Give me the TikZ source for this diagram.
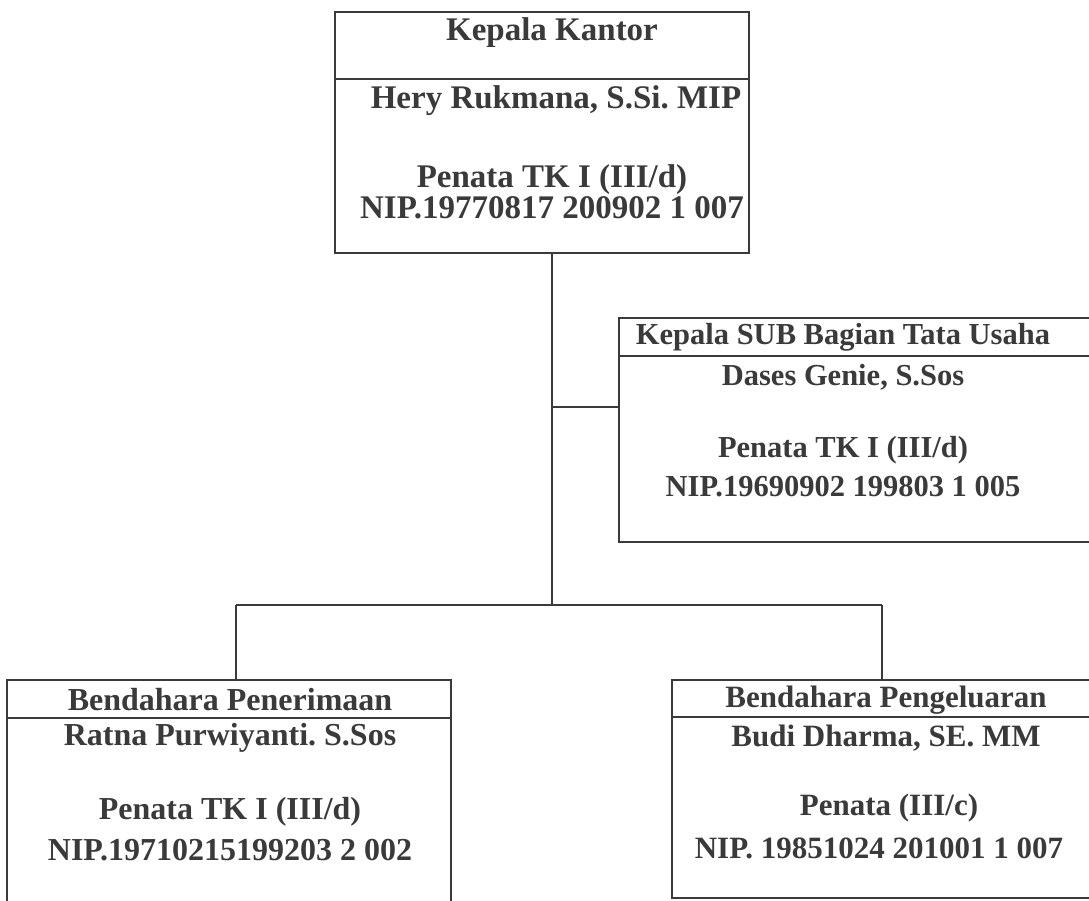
\documentclass[tikz,border=0pt]{standalone}
\usepackage{fontspec}
\setmainfont{Liberation Serif}
\frenchspacing
\definecolor{ink}{HTML}{3A3A3A}
\tikzset{
  boxline/.style={draw=ink, line width=2pt},
  conn/.style={draw=ink, line width=1.6pt},
  lbl/.style={text=ink, font=\fontsize{32}{36}\selectfont\bfseries, inner sep=0pt, anchor=center},
  lblbig/.style={lbl, font=\fontsize{33}{37}\selectfont\bfseries},
  lblmid/.style={lbl, font=\fontsize{30.5}{34}\selectfont\bfseries},
  lbls/.style={lbl, font=\fontsize{31}{35}\selectfont\bfseries},
}
\begin{document}
\begin{tikzpicture}[x=1pt,y=-1pt]
\useasboundingbox (0,0) rectangle (1089,900);
\fill[white] (0,0) rectangle (1089,900);
\clip (0,0) rectangle (1089,900);

% boxes
\node[boxline, minimum width=414pt, minimum height=241pt, inner sep=0pt] (kk) at (542,132.5) {};
\draw[boxline] (335,79) -- (749,79);
\node[boxline, minimum width=490pt, minimum height=224pt, inner sep=0pt] (tu) at (864,430) {};
\draw[boxline] (619,356) -- (1109,356);
\node[boxline, minimum width=444pt, minimum height=260pt, inner sep=0pt] (bp) at (229,810) {};
\draw[boxline] (7,718) -- (451,718);
\node[boxline, minimum width=440pt, minimum height=218pt, inner sep=0pt] (bk) at (892,789) {};
\draw[boxline] (672,717) -- (1112,717);

% connectors
\coordinate (ktop) at (552,253);
\coordinate (jtu) at (552,407);
\coordinate (jbar) at (552,605);
\coordinate (lbar) at (236,605);
\coordinate (rbar) at (882,605);
\draw[conn] (ktop) -- (jbar);
\draw[conn] (jtu) -- (jtu -| tu.west);
\draw[conn] (lbar) -- (rbar);
\draw[conn] (lbar) -- (lbar |- bp.north);
\draw[conn] (rbar) -- (rbar |- bk.north);

% texts: Kepala Kantor
\node[lblbig] (t1) at (552,33) {Kepala Kantor};
\node[lblbig] (t2) at (556,101) {Hery Rukmana, S.Si. MIP};
\node[lblbig] (t3) at (552,180) {Penata TK I (III/d)};
\node[lblbig] (t4) at (552,208) {NIP.19770817 200902 1 007};

% Kepala SUB
\node[lblmid] (u1) at (843,337) {Kepala SUB Bagian Tata Usaha};
\node[lblmid] (u2) at (843,377) {Dases Genie, S.Sos};
\node[lblmid] (u3) at (843,450) {Penata TK I (III/d)};
\node[lblmid] (u4) at (843,487) {NIP.19690902 199803 1 005};

% Bendahara Penerimaan
\node[lbl] (p1) at (230,700) {Bendahara Penerimaan};
\node[lbl] (p2) at (230,738) {Ratna Purwiyanti. S.Sos};
\node[lbl] (p3) at (230,812) {Penata TK I (III/d)};
\node[lbl] (p4) at (230,850) {NIP.19710215199203 2 002};

% Bendahara Pengeluaran
\node[lbls] (k1) at (886,700) {Bendahara Pengeluaran};
\node[lbls] (k2) at (886,738) {Budi Dharma, SE. MM};
\node[lbls] (k3) at (889,808) {Penata (III/c)};
\node[lbls] (k4) at (879,848) {NIP. 19851024 201001 1 007};
\end{tikzpicture}
\end{document}
